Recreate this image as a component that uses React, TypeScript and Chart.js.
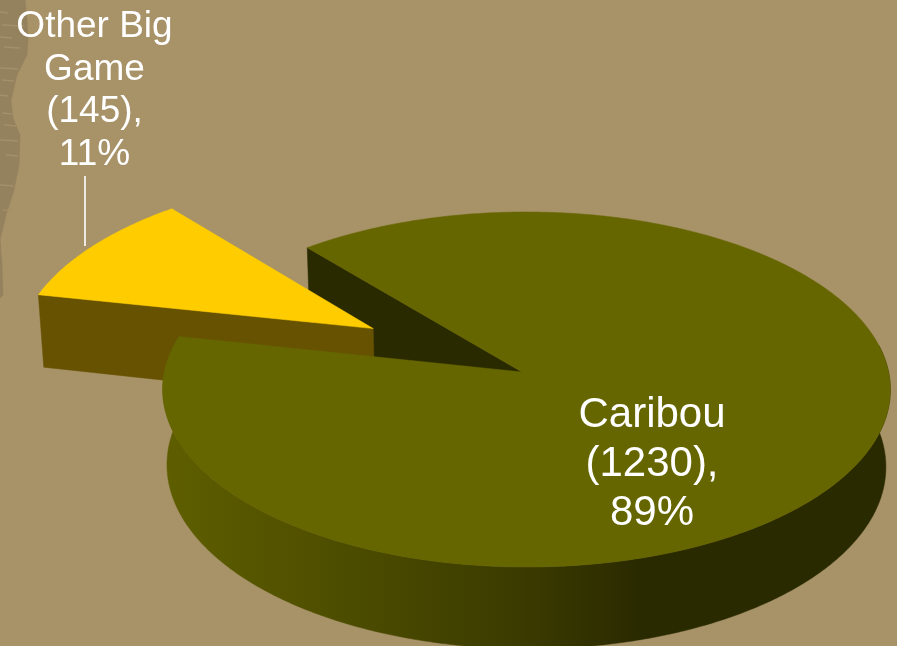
import React, { useEffect, useRef } from "react";
import { Chart, registerables } from "chart.js";

Chart.register(...registerables);

const categories = ["Caribou", "Other Big Game"];
const values = [1230, 145];
const labelLines = [
  ["Caribou", "(1230),", "89%"],
  ["Other Big", "Game", "(145),", "11%"],
];

const BG = "#A89268";
const TOP_COLORS = ["#666600", "#FFCC00"];
const SMALL_WALL = "#665200";
const NOTCH_WALL = "#2A2A00";

// Perspective camera for the tilted disc
const CX = 522, CY = 372, BX = 362, AY = 175.8, KV = 0.0986, KU = 0.0124, DEPTH = 77, KZ = 0.012;
const SMALL_SCALE = 1.02;

function project(u: number, v: number, z: number): [number, number] {
  const w = 1 - KV * v - KU * u + KZ * z;
  return [CX + (BX * u) / w, CY + (AY * v + DEPTH * z) / w];
}

function rimPoints(a0: number, a1: number, ox: number, oy: number, z: number, s = 1) {
  const pts: [number, number][] = [];
  const n = Math.max(2, Math.ceil(Math.abs(a1 - a0) / 0.01));
  for (let i = 0; i <= n; i++) {
    const a = a0 + ((a1 - a0) * i) / n;
    pts.push(project(ox + s * Math.cos(a), oy + s * Math.sin(a), z));
  }
  return pts;
}

function fillPoly(ctx: CanvasRenderingContext2D, pts: [number, number][], fill: string | CanvasGradient) {
  ctx.beginPath();
  pts.forEach((p, i) => (i ? ctx.lineTo(p[0], p[1]) : ctx.moveTo(p[0], p[1])));
  ctx.closePath();
  ctx.fillStyle = fill;
  ctx.fill();
  ctx.strokeStyle = fill;
  ctx.lineWidth = 0.5;
  ctx.stroke();
}

const backdropEdge: [number, number][] = [
  [25, 0], [27, 20], [28, 40], [27, 55], [17, 75], [11, 100], [13, 118], [20, 135], [19, 165],
  [14, 190], [6, 215], [0, 240], [2, 265], [3, 295], [0, 298], [0, 0],
];
const backdropStripes: [number, number, number][] = [
  [0, 12, 8], [2, 25, 24], [0, 37, 12], [4, 47, 20], [0, 68, 18], [2, 80, 14], [0, 95, 8], [2, 113, 12],
  [4, 125, 16], [0, 140, 18], [6, 155, 18], [0, 185, 14], [3, 210, 12],
];

const pie3d = {
  id: "pie3d",
  beforeDraw(chart: any) {
    const ctx: CanvasRenderingContext2D = chart.ctx;
    ctx.save();
    ctx.fillStyle = BG;
    ctx.fillRect(0, 0, chart.width, chart.height);
    fillPoly(ctx, backdropEdge, "#94815E");
    ctx.strokeStyle = "#A3906B";
    ctx.lineWidth = 1.5;
    backdropStripes.forEach(([x0, y, x1]) => {
      ctx.beginPath();
      ctx.moveTo(x0, y);
      ctx.lineTo(x1, y + 1);
      ctx.stroke();
    });
    ctx.restore();
  },
  beforeDatasetsDraw(chart: any) {
    const ctx: CanvasRenderingContext2D = chart.ctx;
    const arcs = chart.getDatasetMeta(0).data;
    const big = arcs[0];
    const small = arcs[1];
    const frac = small.options.offset / small.outerRadius;
    const mid = (small.startAngle + small.endAngle) / 2;
    const ox = Math.cos(mid) * frac;
    const oy = Math.sin(mid) * frac;

    ctx.save();
    // Notch wall of the large slice (the edge at its start angle)
    const bs = big.startAngle;
    const rimS: [number, number] = [Math.cos(bs), Math.sin(bs)];
    fillPoly(
      ctx,
      [project(0, 0, 0), project(rimS[0], rimS[1], 0), project(rimS[0], rimS[1], 1), project(0, 0, 1)],
      NOTCH_WALL
    );

    // Exploded slice: front face then top
    const sa = small.startAngle;
    const sx = ox + SMALL_SCALE * Math.cos(sa);
    const sy = oy + SMALL_SCALE * Math.sin(sa);
    fillPoly(ctx, [project(ox, oy, 0), project(sx, sy, 0), project(sx, sy, 1), project(ox, oy, 1)], SMALL_WALL);
    fillPoly(
      ctx,
      [project(ox, oy, 0), ...rimPoints(small.startAngle, small.endAngle, ox, oy, 0, SMALL_SCALE)],
      TOP_COLORS[1]
    );

    // Large slice: front part of the rim wall, then the top
    const grad = ctx.createLinearGradient(163, 0, 640, 0);
    grad.addColorStop(0, "#5E5E00");
    grad.addColorStop(0.4, "#4C4C00");
    grad.addColorStop(0.75, "#3B3B00");
    grad.addColorStop(1, "#2A2A00");
    const wallStart = Math.PI * 2 - 0.15;
    const rimTop = rimPoints(big.startAngle, big.endAngle, 0, 0, 0);
    const wallTop = rimPoints(wallStart, big.endAngle, 0, 0, 0);
    const wallBottom = rimPoints(wallStart, big.endAngle, 0, 0, 1).reverse();
    fillPoly(ctx, [...wallTop, ...wallBottom], grad);
    fillPoly(ctx, [project(0, 0, 0), ...rimTop], TOP_COLORS[0]);
    ctx.restore();
    return false;
  },
  afterDraw(chart: any) {
    const ctx: CanvasRenderingContext2D = chart.ctx;
    ctx.save();
    ctx.fillStyle = "#FFFFFF";
    ctx.textAlign = "center";
    ctx.textBaseline = "alphabetic";
    ctx.font = '42px "Liberation Sans"';
    labelLines[0].forEach((t, i) => ctx.fillText(t, 652, 427 + i * 49));
    ctx.font = '37px "Liberation Sans"';
    labelLines[1].forEach((t, i) => ctx.fillText(t, 94.5, 37 + i * 42.7));
    ctx.strokeStyle = "#FFFFFF";
    ctx.lineWidth = 1.6;
    ctx.beginPath();
    ctx.moveTo(85, 176);
    ctx.lineTo(85, 246);
    ctx.stroke();
    ctx.restore();
  },
};

export default function App() {
  const ref = useRef<HTMLCanvasElement | null>(null);
  useEffect(() => {
    document.body.style.margin = "0";
    document.body.style.background = BG;
    const chart = new Chart(ref.current as HTMLCanvasElement, {
      type: "pie",
      data: {
        labels: categories,
        datasets: [{ data: values, backgroundColor: TOP_COLORS, borderWidth: 0, offset: [0, 128] }],
      },
      options: {
        responsive: false,
        animation: false,
        rotation: 320,
        plugins: { legend: { display: false }, tooltip: { enabled: false } },
      },
      plugins: [pie3d],
    } as any);
    return () => chart.destroy();
  }, []);
  return <canvas ref={ref} width={897} height={646} style={{ display: "block" }} />;
}
